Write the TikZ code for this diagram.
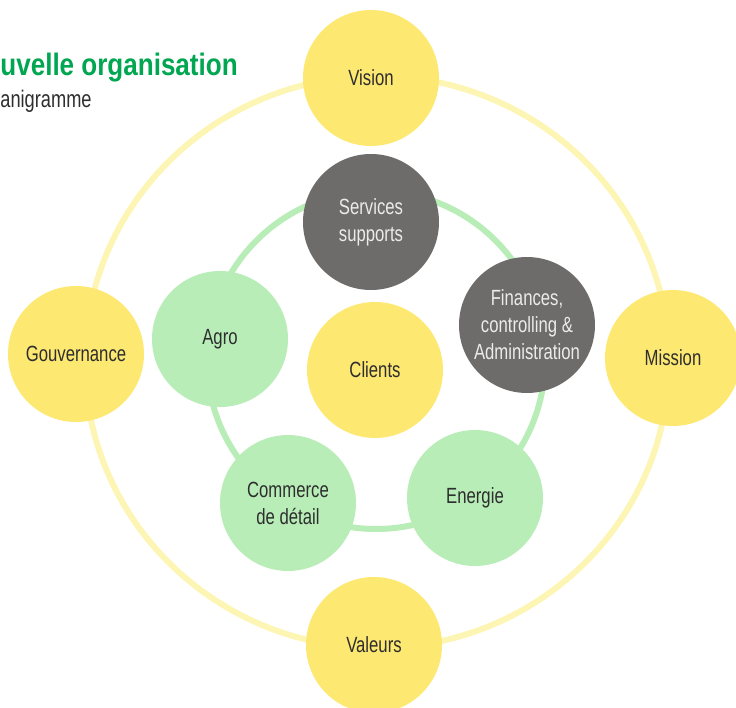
\documentclass[tikz,border=0pt]{standalone}
\usepackage{fontspec}
\setmainfont[FakeStretch=0.76]{Liberation Sans}
\newfontfamily\titlefont[FakeStretch=0.84]{Liberation Sans}
\usepackage{tikz}
\usetikzlibrary{positioning}

\definecolor{discyellow}{HTML}{FDE872}
\definecolor{discgreen}{HTML}{B8EDB8}
\definecolor{discgray}{HTML}{6E6C6A}
\definecolor{ringyellow}{HTML}{FDF5B4}
\definecolor{titlegreen}{HTML}{00A651}
\definecolor{textgray}{HTML}{2E2E2E}

\tikzset{
  disc/.style = {circle, minimum size = 68pt, inner sep = 0pt, align = center,
                 font = \fontsize{11}{13.5}\selectfont},
  yellowdisc/.style = {disc, fill = discyellow, text = textgray},
  greendisc/.style = {disc, fill = discgreen, text = textgray},
  graydisc/.style = {disc, fill = discgray, text = white!92!black}
}

\begin{document}
\begin{tikzpicture}[x = 0.5pt, y = -0.5pt]
\useasboundingbox (0, 0) rectangle (736, 708);

% rings
\draw[ringyellow, line width = 3pt] (377, 362) ellipse [x radius = 146pt, y radius = 143pt];
\draw[discgreen, line width = 3pt] (376, 360) circle [radius = 84.5pt];

% title
\node (title) at (0, 68) [anchor = west, inner sep = 0pt, text = titlegreen,
  font = \titlefont\bfseries\fontsize{15.5}{17}\selectfont] {uvelle organisation};
\node (subtitle) at (0, 101) [anchor = west, inner sep = 0pt, text = textgray,
  font = \fontsize{12}{14}\selectfont] {anigramme};

% outer discs
\node (vision) at (371, 78) [yellowdisc] {Vision};
\node (mission) at (673, 358) [yellowdisc] {Mission};
\node (valeurs) at (374, 645) [yellowdisc] {Valeurs};
\node (gouvernance) at (76, 354) [yellowdisc] {Gouvernance};

% inner discs
\node (services) at (371, 222) [graydisc] {Services\\supports};
\node (finances) at (527, 325) [graydisc] {Finances,\\controlling \&\\Administration};
\node (energie) at (475, 498) [greendisc] {Energie};
\node (commerce) at (288, 503) [greendisc] {Commerce\\de détail};
\node (agro) at (220, 339) [greendisc] {Agro};
\node (clients) at (375, 370) [yellowdisc] {Clients};

\end{tikzpicture}
\end{document}
